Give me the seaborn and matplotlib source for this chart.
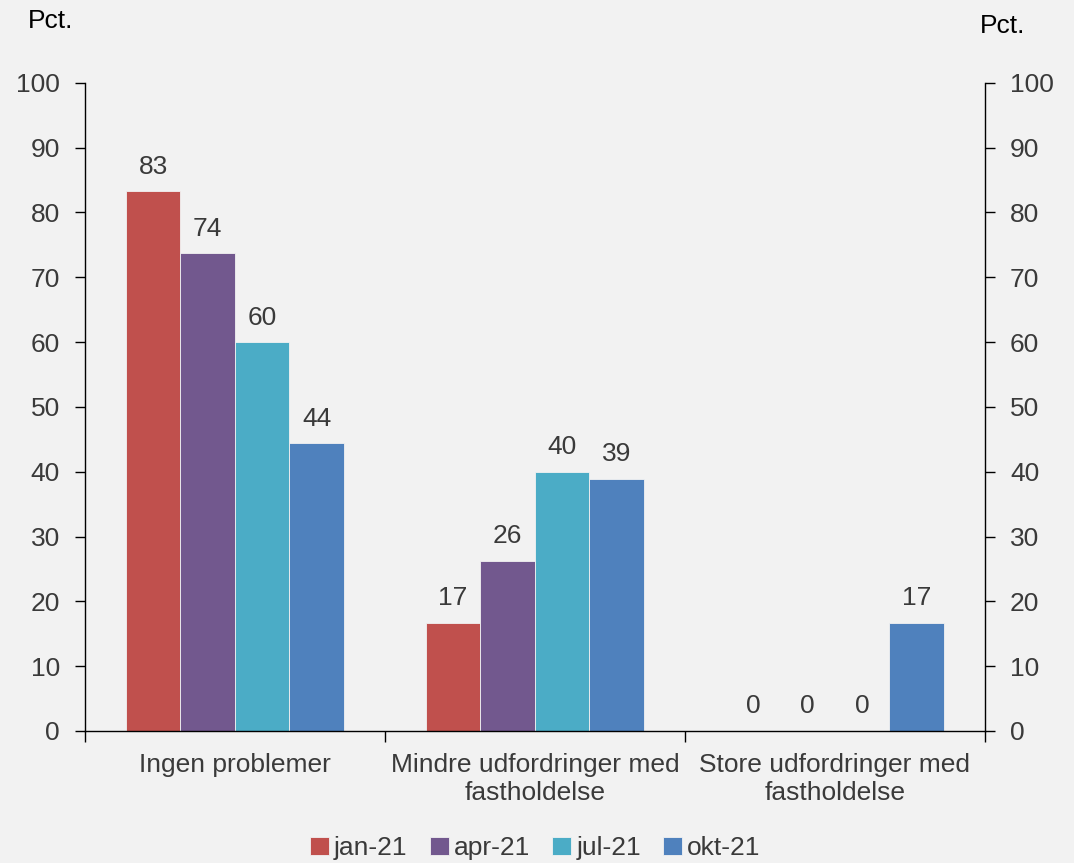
import pandas as pd
import numpy as np
import matplotlib.pyplot as plt
import seaborn as sns

sns.set_theme(style="white")
plt.rcParams["font.family"] = ["Liberation Sans", "DejaVu Sans"]

# data
categories = ["Ingen problemer",
              "Mindre udfordringer med\nfastholdelse",
              "Store udfordringer med\nfastholdelse"]
periods = ["jan-21", "apr-21", "jul-21", "okt-21"]
jan21 = [83.3, 16.7, 0.0]
apr21 = [73.7, 26.3, 0.0]
jul21 = [60.0, 40.0, 0.0]
okt21 = [44.4, 38.9, 16.7]

COLORS = ["#C0504D", "#72588E", "#4BACC6", "#4F81BD"]
BG = "#F2F2F2"
TXT = "#3A3A3A"
FS = 19

df = pd.DataFrame({
    "Kategori": categories * 4,
    "Periode": np.repeat(periods, 3),
    "Pct": jan21 + apr21 + jul21 + okt21,
})

fig = plt.figure(figsize=(10.74, 8.63), dpi=100, facecolor=BG)
ax = fig.add_axes([0.0791, 0.153, 0.838, 0.751])
ax.set_facecolor(BG)

sns.barplot(data=df, x="Kategori", y="Pct", hue="Periode", order=categories,
            hue_order=periods, palette=COLORS, width=0.727, saturation=1,
            edgecolor=BG, linewidth=0.6, ax=ax)

for cont in ax.containers:
    ax.bar_label(cont, labels=[f"{v:.0f}" for v in cont.datavalues],
                 padding=9, fontsize=FS, color=TXT)

ax.set_xlim(-0.5, 2.5)
ax.set_ylim(0, 100)
ax.set_yticks(range(0, 101, 10))
ax.set_xlabel("")
ax.set_ylabel("")

for s in ["top", "right"]:
    ax.spines[s].set_visible(False)
for s in ["left", "bottom"]:
    ax.spines[s].set_color("black")
    ax.spines[s].set_linewidth(1.0)

ax.tick_params(axis="y", direction="out", length=7, width=1, color="black",
               labelsize=FS, labelcolor=TXT, pad=11, left=True)
ax.tick_params(axis="x", which="major", length=0, labelsize=FS,
               labelcolor=TXT, pad=16)
ax.set_xticks([-0.5, 0.5, 1.5, 2.5], minor=True)
ax.tick_params(axis="x", which="minor", direction="out", length=8, width=1,
               color="black", bottom=True)

ax2 = ax.twinx()
ax2.set_ylim(0, 100)
ax2.set_yticks(range(0, 101, 10))
for s in ["top", "left", "bottom"]:
    ax2.spines[s].set_visible(False)
ax2.spines["right"].set_color("black")
ax2.spines["right"].set_linewidth(1.0)
ax2.tick_params(axis="y", direction="out", length=7, width=1, color="black",
                labelsize=FS, labelcolor=TXT, pad=11, right=True)

fig.text(0.026, 0.976, "Pct.", fontsize=FS, color="black", ha="left", va="center")
fig.text(0.9335, 0.970, "Pct.", fontsize=FS, color="black", ha="center", va="center")

handles, labels = ax.get_legend_handles_labels()
ax.legend(handles, labels, loc="center", bbox_to_anchor=(0.4985, 0.017),
          bbox_transform=fig.transFigure, ncol=4, frameon=False, fontsize=FS,
          handlelength=0.7, handleheight=0.7, handletextpad=0.2,
          columnspacing=0.85, labelcolor=TXT)

fig.savefig("out.png", dpi=100, facecolor=BG)
